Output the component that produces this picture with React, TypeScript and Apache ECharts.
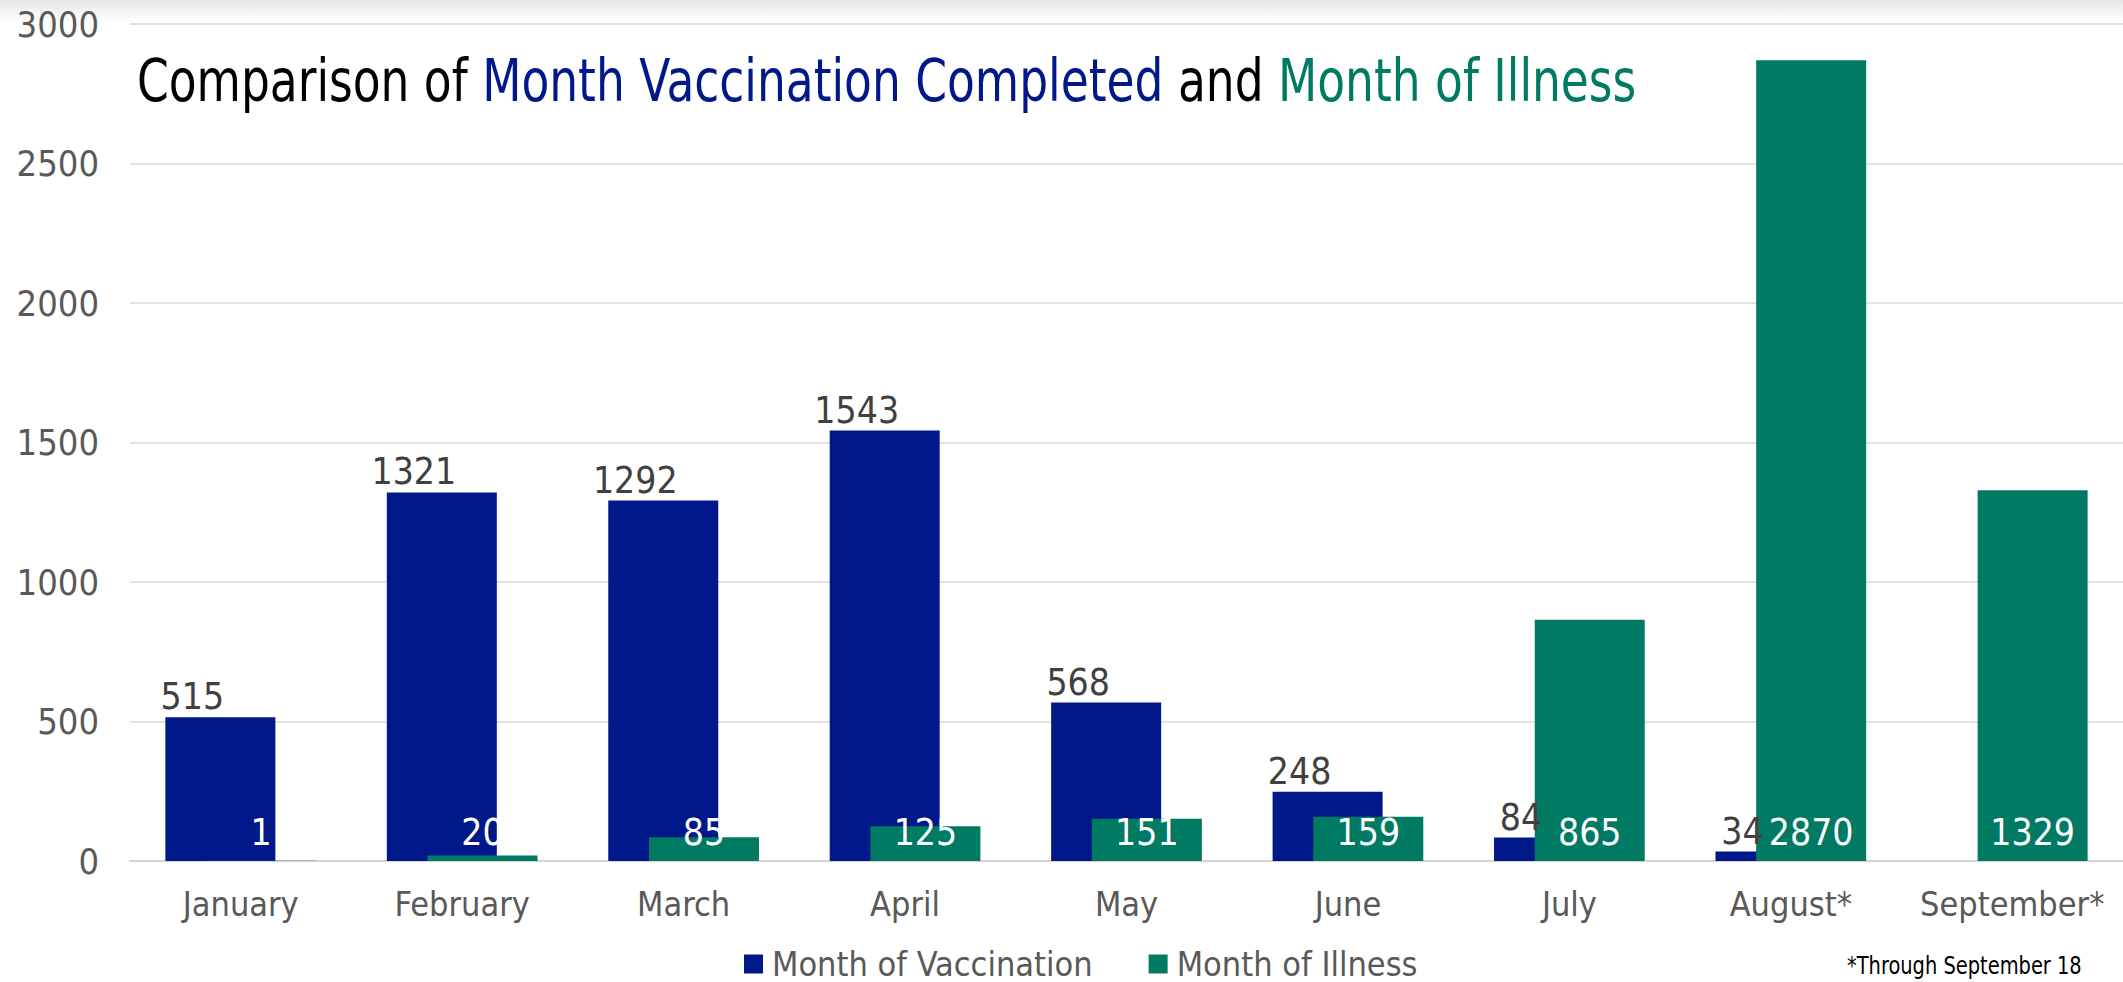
import React, { useEffect, useRef } from "react";
import * as echarts from "echarts";

const categories = ["January", "February", "March", "April", "May", "June", "July", "August*", "September*"];
const vaccination = [515, 1321, 1292, 1543, 568, 248, 84, 34, null];
const illness = [1, 20, 85, 125, 151, 159, 865, 2870, 1329];
const yTicks = { min: 0, max: 3000, interval: 500 };

const FONT = "'DejaVu Sans Condensed', 'DejaVu Sans', sans-serif";
const NAVY = "#00188a";
const TEAL = "#007a63";

export default function App() {
  const ref = useRef<HTMLDivElement>(null);
  useEffect(() => {
    document.body.style.margin = "0";
    const chart = echarts.init(ref.current!, null, { renderer: "svg" });
    chart.setOption({
      animation: false,
      backgroundColor: "#ffffff",
      textStyle: { fontFamily: FONT },
      graphic: [
        {
          type: "rect",
          x: 0,
          y: 0,
          shape: { width: 2123, height: 22 },
          style: {
            fill: new echarts.graphic.LinearGradient(0, 0, 0, 1, [
              { offset: 0, color: "#e6e6e6" },
              { offset: 1, color: "#ffffff" },
            ]),
          },
          z: -1,
        },
        {
          type: "text",
          x: 137,
          y: 52,
          scaleX: 0.872,
          style: {
            text: "{a|Comparison of }{b|Month Vaccination Completed}{a| and }{c|Month of Illness}",
            verticalAlign: "top",
            rich: {
              a: { fontFamily: FONT, fontSize: 58, fontWeight: "normal", fill: "#000000" },
              b: { fontFamily: FONT, fontSize: 58, fontWeight: "normal", fill: NAVY },
              c: { fontFamily: FONT, fontSize: 58, fontWeight: "normal", fill: TEAL },
            },
          },
        },
        {
          type: "text",
          x: 1847,
          y: 954,
          scaleX: 0.9,
          style: { text: "*Through September 18", font: `24px ${FONT}`, fill: "#000000", verticalAlign: "top" },
        },
      ],
      legend: {
        top: 942,
        left: 739,
        itemWidth: 19,
        itemHeight: 19,
        itemGap: 56,
        icon: "rect",
        textStyle: { fontFamily: FONT, fontSize: 34, lineHeight: 34, color: "#595959", padding: [0, 0, 0, 4] },
        data: ["Month of Vaccination", "Month of Illness"],
      },
      grid: { left: 130, right: 0, top: 24, bottom: 121, containLabel: false },
      xAxis: {
        type: "category",
        data: categories,
        axisTick: { show: false },
        axisLine: { lineStyle: { color: "#d4d4d4", width: 2 } },
        axisLabel: { color: "#595959", fontSize: 34, fontFamily: FONT, margin: 26, interval: 0 },
      },
      yAxis: {
        type: "value",
        min: yTicks.min,
        max: yTicks.max,
        interval: yTicks.interval,
        axisLabel: {
          color: "#595959",
          fontSize: 36,
          fontFamily: FONT,
          margin: 31,
          formatter: (v: number) => String(v),
        },
        splitLine: { lineStyle: { color: "#d9d9d9", width: 1.5 } },
        axisLine: { show: false },
        axisTick: { show: false },
      },
      series: [
        {
          name: "Month of Vaccination",
          type: "bar",
          data: vaccination,
          barWidth: 110,
          barGap: "-63%",
          itemStyle: { color: NAVY },
          label: {
            show: true,
            position: "top",
            distance: 2,
            offset: [-28, 0],
            color: "#404040",
            fontSize: 37,
            fontFamily: FONT,
          },
        },
        {
          name: "Month of Illness",
          type: "bar",
          data: illness,
          barWidth: 110,
          itemStyle: { color: TEAL },
          label: {
            show: true,
            position: "insideBottom",
            distance: 10,
            color: "#ffffff",
            fontSize: 37,
            fontFamily: FONT,
          },
        },
      ],
    });
    return () => chart.dispose();
  }, []);
  return <div ref={ref} style={{ position: "absolute", left: 0, top: 0, width: 2123, height: 982 }} />;
}
